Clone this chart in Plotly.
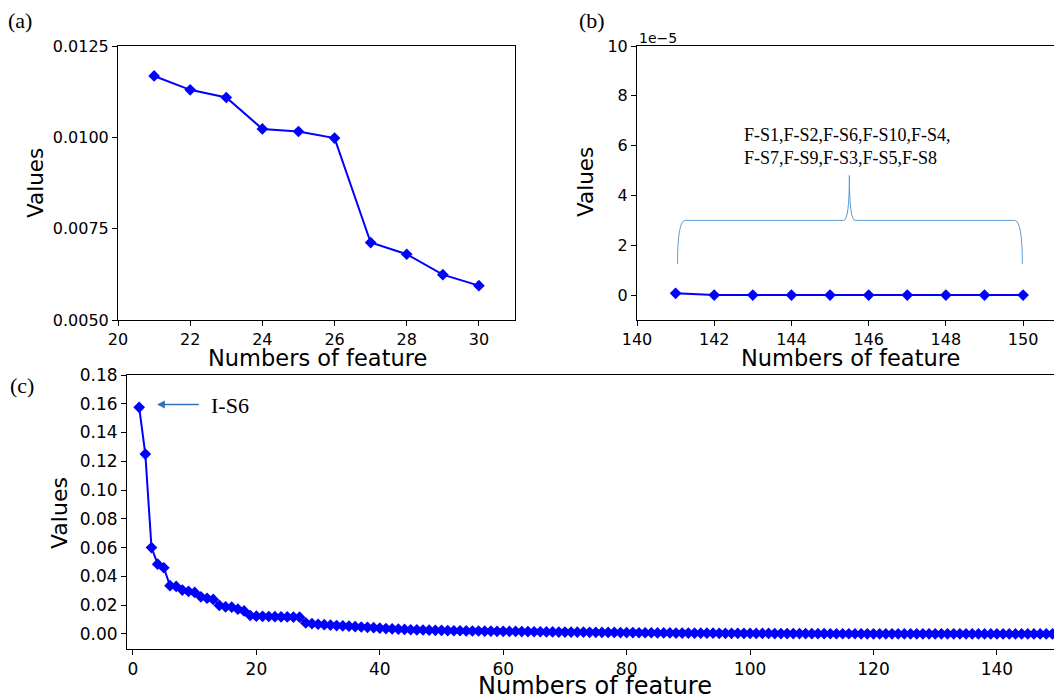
import plotly.graph_objects as go

# ---- data ----
a_features = [21, 22, 23, 24, 25, 26, 27, 28, 29, 30]
a_values = [0.01168, 0.01130, 0.01109, 0.01023, 0.01016, 0.00998,
            0.00712, 0.00680, 0.00624, 0.00594]

b_features = [141, 142, 143, 144, 145, 146, 147, 148, 149, 150]
b_values = [7e-7, 0.0, 0.0, 0.0, 0.0, 0.0, 0.0, 0.0, 0.0, 0.0]
b_group_label = "F-S1,F-S2,F-S6,F-S10,F-S4,<br>F-S7,F-S9,F-S3,F-S5,F-S8"

c_features = list(range(1, 151))
c_values = [
    0.1575, 0.1250, 0.0600, 0.0485, 0.0460, 0.0335, 0.0330, 0.0305, 0.0295, 0.0288,
    0.0258, 0.0248, 0.0240, 0.0198, 0.0188, 0.0186, 0.0172, 0.0160, 0.0128, 0.0123,
    0.0122, 0.0121, 0.0120, 0.0119, 0.0118, 0.0117, 0.0116, 0.0076, 0.0071, 0.0067,
    0.0064, 0.0061, 0.0058, 0.0056, 0.0054, 0.0051, 0.0048, 0.0046, 0.0043, 0.0040,
    0.0037, 0.0035, 0.0033, 0.0031, 0.0029, 0.0028, 0.0027, 0.0026, 0.0025, 0.0024,
    0.0023, 0.0022, 0.0022, 0.0021, 0.0020, 0.0020, 0.0019, 0.0019, 0.0018, 0.0018,
    0.0017, 0.0017, 0.0016, 0.0016, 0.0015, 0.0015, 0.0014, 0.0014, 0.0013, 0.0013,
    0.0012, 0.0012, 0.0012, 0.0011, 0.0011, 0.0010, 0.0010, 0.0010, 0.0009, 0.0009,
    0.0009, 0.0008, 0.0008, 0.0008, 0.0007, 0.0007, 0.0007, 0.0006, 0.0006, 0.0006,
    0.0005, 0.0005, 0.0005, 0.0005, 0.0004, 0.0004, 0.0004, 0.0004, 0.0003, 0.0003,
    0.0003, 0.0003, 0.0003, 0.0002, 0.0002, 0.0002, 0.0002, 0.0002, 0.0002, 0.00015,
    0.00014, 0.00013, 0.00012, 0.00011, 0.00010, 0.00009, 0.00009, 0.00008, 0.00008, 0.00007,
    0.00007, 0.00006, 0.00006, 0.00005, 0.00005, 0.00004, 0.00004, 0.00004, 0.00003, 0.00003,
    0.00003, 0.00002, 0.00002, 0.00002, 0.00002, 0.00001, 0.00001, 0.00001, 0.00001, 0.000005,
    0.0000007, 0.0, 0.0, 0.0, 0.0, 0.0, 0.0, 0.0, 0.0, 0.0,
]

a_xticks = [20, 22, 24, 26, 28, 30]
a_yticks = [0.0050, 0.0075, 0.0100, 0.0125]
b_xticks = [140, 142, 144, 146, 148, 150]
b_yticks = [0, 2e-5, 4e-5, 6e-5, 8e-5, 10e-5]
b_yticktext = ["0", "2", "4", "6", "8", "10"]
c_xticks = [0, 20, 40, 60, 80, 100, 120, 140]
c_yticks = [0.00, 0.02, 0.04, 0.06, 0.08, 0.10, 0.12, 0.14, 0.16, 0.18]

W, H = 1054, 700
BLUE = "#0000ff"
SANS = "DejaVu Sans"
SERIF = "Liberation Serif"


def px(x):
    return x / W


def py(y):
    return 1 - y / H


line_style = dict(color=BLUE, width=2)
marker_style = dict(symbol="diamond", size=9, color=BLUE)

fig = go.Figure()
fig.add_trace(go.Scatter(x=a_features, y=a_values, mode="lines+markers",
                         line=line_style, marker=marker_style,
                         xaxis="x", yaxis="y", showlegend=False))
fig.add_trace(go.Scatter(x=b_features, y=b_values, mode="lines+markers",
                         line=line_style, marker=marker_style,
                         xaxis="x2", yaxis="y2", showlegend=False))
fig.add_trace(go.Scatter(x=c_features, y=c_values, mode="lines+markers",
                         line=line_style, marker=marker_style,
                         xaxis="x3", yaxis="y3", showlegend=False))


def axis_style(tick_size):
    return dict(showgrid=False, zeroline=False, showline=True, linecolor="black",
                linewidth=1, ticks="outside", ticklen=5, tickwidth=1,
                tickcolor="black", automargin=False,
                tickfont=dict(family=SANS, size=tick_size, color="black"))


top_style = axis_style(16)
bottom_style = axis_style(17)

fig.update_layout(
    template="none",
    width=W, height=H,
    margin=dict(l=0, r=0, t=0, b=0, pad=0),
    paper_bgcolor="white", plot_bgcolor="white",
    xaxis=dict(top_style, domain=[px(118), px(515)], range=[20, 31],
               tickvals=a_xticks, mirror=True, anchor="y"),
    yaxis=dict(top_style, domain=[py(320), py(46)], range=[0.005, 0.0125],
               tickvals=a_yticks, tickformat=".4f", mirror=True, anchor="x"),
    xaxis2=dict(top_style, domain=[px(637), 1.0], range=[140, 150.8],
                tickvals=b_xticks, mirror=True, anchor="y2"),
    yaxis2=dict(top_style, domain=[py(320), py(46)], range=[-1e-5, 10e-5],
                tickvals=b_yticks, ticktext=b_yticktext, anchor="x2"),
    xaxis3=dict(bottom_style, domain=[px(127), 1.0], range=[-0.97, 149.25],
                tickvals=c_xticks, mirror=True, anchor="y3"),
    yaxis3=dict(bottom_style, domain=[py(649), py(375)], range=[-0.0105, 0.18],
                tickvals=c_yticks, tickformat=".2f", anchor="x3"),
)

annotations = []


def label(text, x, y, size, family=SANS, angle=0, xanchor="center", align="center"):
    annotations.append(dict(text=text, x=px(x), y=py(y), xref="paper", yref="paper",
                            showarrow=False, textangle=angle, xanchor=xanchor,
                            yanchor="middle", align=align,
                            font=dict(family=family, size=size, color="black")))


# panel letters
label("(a)", 20, 20, 22, SERIF)
label("(b)", 592, 20, 22, SERIF)
label("(c)", 22, 385, 22, SERIF)

# axis titles
label("Values", 35, 183, 21.5, angle=-90)
label("Numbers of feature", 317, 358, 22.5)
label("Values", 585, 182, 21.5, angle=-90)
label("Numbers of feature", 850, 358, 22.5)
label("Values", 59, 513, 22, angle=-90)
label("Numbers of feature", 595, 686, 24)

# scale factor of panel (b)
label("1e\u22125", 637, 38, 14, xanchor="left")

# group of tail features in panel (b)
label(b_group_label, 742, 147, 18, SERIF, xanchor="left", align="left")

# pointer to the top-ranked feature in panel (c)
annotations.append(dict(x=3.9, y=0.1595, ax=10.9, ay=0.1595, xref="x3", yref="y3",
                        axref="x3", ayref="y3", text="", showarrow=True,
                        arrowhead=2, arrowsize=1.2, arrowwidth=1.3, arrowcolor="#2e75b6"))
label("I-S6", 209, 405, 22, SERIF, xanchor="left")

fig.update_layout(annotations=annotations)

# curly brace spanning features 141..150 in panel (b)
x0, x1 = b_features[0] + 0.05, b_features[-1] - 0.02
xm = (b_features[0] + b_features[-1]) / 2
y_end, y_mid, y_tip = 1.25e-5, 3.0e-5, 4.8e-5


def f(v):
    return f"{v:.9f}"


brace = (
    f"M {f(x0)},{f(y_end)} "
    f"Q {f(x0)},{f(y_mid)} {f(x0 + 0.2)},{f(y_mid)} "
    f"L {f(xm - 0.15)},{f(y_mid)} "
    f"Q {f(xm)},{f(y_mid)} {f(xm)},{f(y_tip)} "
    f"Q {f(xm)},{f(y_mid)} {f(xm + 0.15)},{f(y_mid)} "
    f"L {f(x1 - 0.2)},{f(y_mid)} "
    f"Q {f(x1)},{f(y_mid)} {f(x1)},{f(y_end)}"
)
fig.add_shape(type="path", path=brace, xref="x2", yref="y2",
              line=dict(color="#5b9bd5", width=1))

fig.write_html("out.html")
